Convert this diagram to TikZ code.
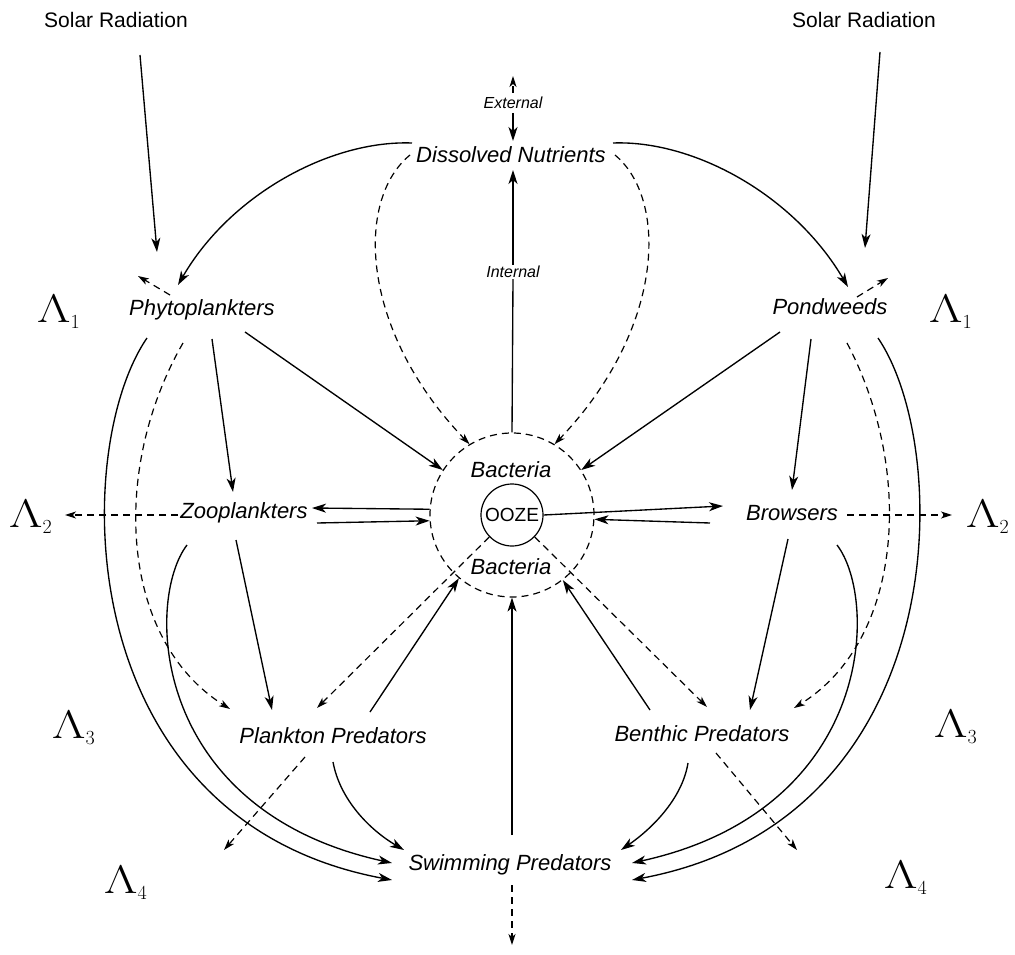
\RequirePackage{fix-cm}
\documentclass[tikz,border=0pt]{standalone}
\usepackage{fontspec}
\setmainfont{Liberation Sans}
\usepackage{graphicx}
\usetikzlibrary{arrows.meta,calc}
\newcommand\lamsym[1]{$\scalebox{1.3}[1]{$\Lambda$}_{\scriptscriptstyle #1}$}
\begin{document}
\begin{tikzpicture}[x=1pt,y=-1pt,
  lbl/.style={font=\fontsize{22}{26}\selectfont\itshape, inner sep=0pt},
  sol/.style={font=\fontsize{21}{25}\selectfont, inner sep=0pt},
  small/.style={font=\fontsize{16}{19}\selectfont\itshape, inner sep=1pt},
  lam/.style={font=\fontsize{40}{44}\selectfont, inner sep=0pt, anchor=base west},
  flow/.style={line width=1.35pt, -{Stealth[length=14pt,width=9pt,inset=4pt]}},
  plain/.style={line width=1.35pt},
  loss/.style={line width=1.2pt, dash pattern=on 7pt off 5pt, -{Stealth[length=11pt,width=7pt,inset=3pt]}},
  dcirc/.style={circle, draw, line width=1.2pt, dash pattern=on 7pt off 5pt, minimum size=164pt, inner sep=0pt}
]
\useasboundingbox (0,0) rectangle (1015,955);
% ---------- nodes ----------
\node[sol] (solarL) at (116,20) {Solar Radiation};
\node[sol] (solarR) at (864,20) {Solar Radiation};
\node[small] (ext) at (513,103) {External};
\node[lbl] (dn) at (511,155) {Dissolved Nutrients};
\node[small] (int) at (513,272) {Internal};
\node[lbl] (phyto) at (202,310) {Phytoplankters};
\node[lbl] (pond) at (830,307) {Pondweeds};
\node[lbl] (zoo) at (244,513) {Zooplankters};
\node[lbl] (brow) at (792,513) {Browsers};
\node[dcirc] (bac) at (512,515) {};
\node[circle, draw, line width=1.2pt, minimum size=62pt, inner sep=0pt, font=\fontsize{19}{22}\selectfont] (ooze) at (512,515) {OOZE};
\node[lbl] (bact) at (511,470) {Bacteria};
\node[lbl] (bacb) at (511,567) {Bacteria};
\node[lbl] (plank) at (333,736) {Plankton Predators};
\node[lbl] (benth) at (702,734) {Benthic Predators};
\node[lbl] (swim) at (510,865) {Swimming Predators};
\node[lam] (l1a) at (37,322) {\lamsym{1}};
\node[lam] (l1b) at (929,322) {\lamsym{1}};
\node[lam] (l2a) at (9,527) {\lamsym{2}};
\node[lam] (l2b) at (966,527) {\lamsym{2}};
\node[lam] (l3a) at (52,738) {\lamsym{3}};
\node[lam] (l3b) at (934,737) {\lamsym{3}};
\node[lam] (l4a) at (104,893) {\lamsym{4}};
\node[lam] (l4b) at (884,888) {\lamsym{4}};
% ---------- solar ----------
\draw[flow] ($(solarL)+(24,35)$) -- ($(phyto)+(-45,-58)$);
\draw[flow] ($(solarR)+(16,32)$) -- ($(pond)+(35,-59)$);
% ---------- nutrients ----------
\draw[flow] ($(dn)+(-99,-12)$) .. controls (330,140) and (230,195) .. ($(phyto)+(-24,-25)$);
\draw[flow] ($(dn)+(102,-12)$) .. controls (694,140) and (794,195) .. ($(pond)+(18,-20)$);
\draw[loss] ($(dn)+(-101,0)$) .. controls (355,200) and (360,330) .. (bac.121);
\draw[loss] ($(dn)+(104,0)$) .. controls (669,200) and (664,330) .. (bac.59);
\draw[loss] ($(ext)+(0,-10)$) -- ($(ext)+(0,-27)$);
\draw[flow] ($(ext)+(0,10)$) -- ($(dn)+(2,-14)$);
\draw[plain] (bac.north) -- (int.south);
\draw[flow] (int.north) -- ($(dn)+(2,15)$);
% ---------- producers ----------
\draw[flow] ($(phyto)+(43,22)$) -- (bac.147);
\draw[flow] ($(pond)+(-50,25)$) -- (bac.33);
\draw[flow] ($(phyto)+(10,29)$) -- ($(zoo)+(-11,-21)$);
\draw[flow] ($(pond)+(-19,32)$) -- ($(brow)+(0,-23)$);
\draw[loss] ($(phyto)+(-32,-15)$) -- ($(phyto)+(-64,-34)$);
\draw[loss] ($(pond)+(27,-10)$) -- ($(pond)+(58,-29)$);
\draw[flow] ($(phyto)+(-55,28)$) .. controls (70,450) and (70,820) .. ($(swim)+(-118,15)$);
\draw[flow] ($(pond)+(48,31)$) .. controls (954,450) and (954,820) .. ($(swim)+(122,15)$);
\draw[loss] ($(phyto)+(-19,33)$) .. controls (110,470) and (120,640) .. ($(plank)+(-103,-27)$);
\draw[loss] ($(pond)+(17,36)$) .. controls (914,470) and (904,640) .. ($(benth)+(92,-26)$);
% ---------- consumers ----------
\draw[flow] ($(zoo)+(-57,32)$) .. controls (145,600) and (150,810) .. ($(swim)+(-118,-2)$);
\draw[flow] ($(brow)+(45,32)$) .. controls (879,600) and (874,810) .. ($(swim)+(122,-2)$);
\draw[loss] ($(zoo)+(-66,2)$) -- ($(zoo)+(-179,2)$);
\draw[loss] ($(brow)+(55,2)$) -- ($(brow)+(160,2)$);
\draw[flow] (bac.176) -- ($(zoo)+(68,-5)$);
\draw[flow] ($(zoo)+(73,10)$) -- (bac.184);
\draw[flow] (ooze.east) -- ($(brow)+(-69,-7)$);
\draw[flow] ($(brow)+(-82,10)$) -- (bac.-3);
\draw[flow] ($(zoo)+(-8,27)$) -- ($(plank)+(-61,-26)$);
\draw[flow] ($(brow)+(-4,26)$) -- ($(benth)+(48,-24)$);
\draw[loss] (ooze.224) -- ($(plank)+(-16,-28)$);
\draw[loss] (ooze.-44) -- ($(benth)+(5,-27)$);
\draw[flow] ($(plank)+(37,-24)$) -- (bac.230);
\draw[flow] ($(benth)+(-52,-24)$) -- (bac.-52);
% ---------- predators ----------
\draw[flow] ($(plank)+(0,26)$) .. controls (340,800) and (370,830) .. ($(swim)+(-106,-15)$);
\draw[flow] ($(benth)+(-14,29)$) .. controls (682,800) and (650,830) .. ($(swim)+(111,-15)$);
\draw[loss] ($(plank)+(-28,21)$) -- ($(plank)+(-109,114)$);
\draw[loss] ($(benth)+(14,19)$) -- ($(benth)+(95,116)$);
\draw[flow] ($(swim)+(2,-30)$) -- (bac.south);
\draw[loss] ($(swim)+(2,20)$) -- ($(swim)+(2,80)$);
\end{tikzpicture}
\end{document}
